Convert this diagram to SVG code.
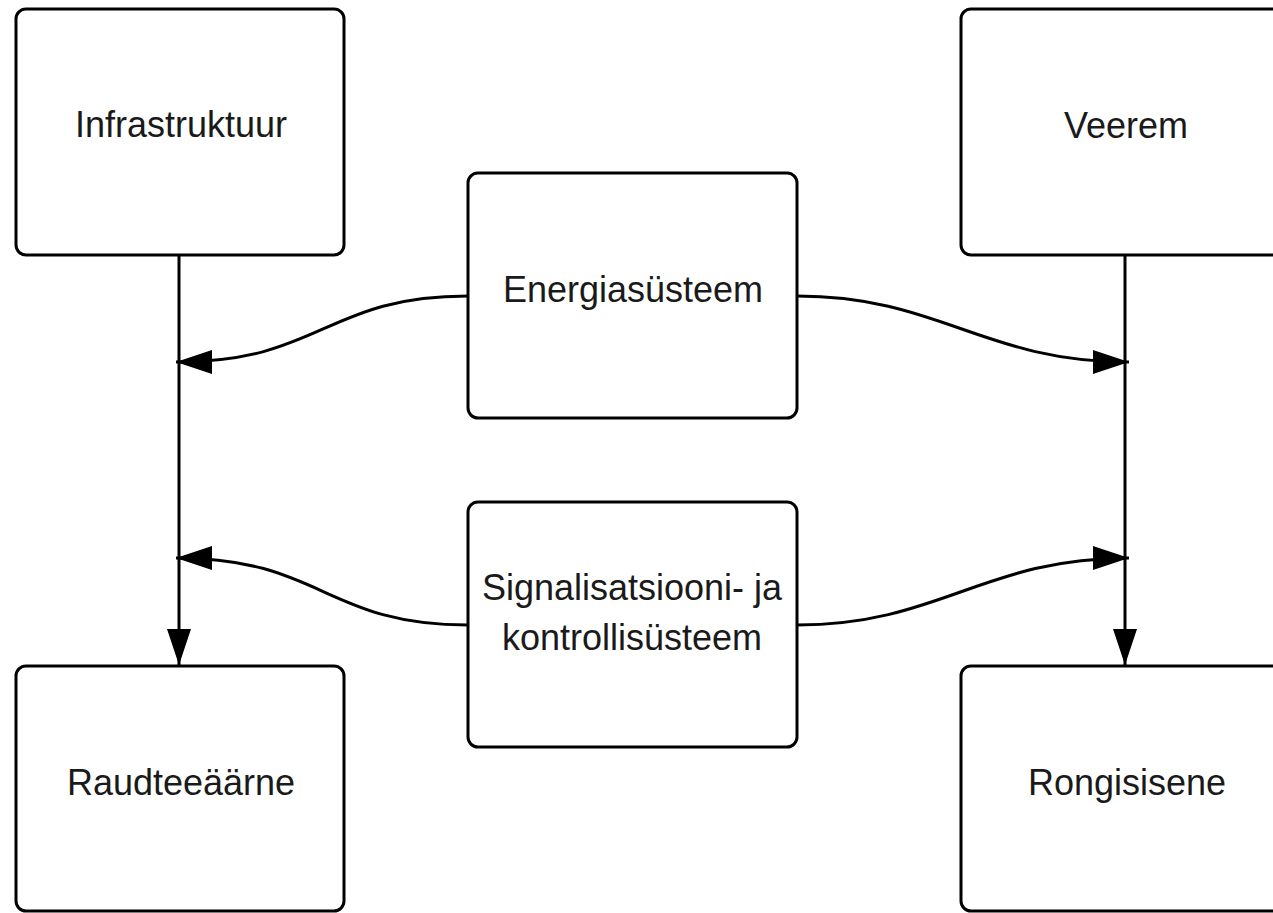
<svg xmlns="http://www.w3.org/2000/svg" width="1273" height="913" viewBox="0 0 1273 913">
  <style>
    .box { fill: #ffffff; stroke: #000000; stroke-width: 3; }
    .label { font-family: "Liberation Sans", Arial, sans-serif; font-size: 36px; fill: #1a1a1a; text-anchor: middle; }
    .edge { fill: none; stroke: #000000; stroke-width: 3; }
  </style>
  <defs>
    <marker id="arrow" markerUnits="userSpaceOnUse" markerWidth="40" markerHeight="26" refX="36" refY="12" orient="auto">
      <path d="M0,0 L36,12 L0,24 z" fill="#000000"/>
    </marker>
  </defs>

  <rect width="1273" height="913" fill="#ffffff"/>

  <g id="connectors">
    <!-- vertical flows -->
    <path class="edge" d="M179,256 L179,665" marker-end="url(#arrow)"/>
    <path class="edge" d="M1125,256 L1125,665" marker-end="url(#arrow)"/>
    <!-- energy system feeds -->
    <path class="edge" d="M468,296 C325,296 322,362 176,362" marker-end="url(#arrow)"/>
    <path class="edge" d="M797,296 C940,296 983,362 1129,362" marker-end="url(#arrow)"/>
    <!-- signalling feeds -->
    <path class="edge" d="M468,625 C325,625 322,558 176,558" marker-end="url(#arrow)"/>
    <path class="edge" d="M797,625 C940,625 983,558 1129,558" marker-end="url(#arrow)"/>
  </g>

  <g id="node-infrastruktuur">
    <rect class="box" x="16" y="9" width="328" height="246" rx="10"/>
    <text class="label" x="181" y="137">Infrastruktuur</text>
  </g>

  <g id="node-veerem">
    <rect class="box" x="961" y="9" width="330" height="246" rx="10"/>
    <text class="label" x="1126" y="138">Veerem</text>
  </g>

  <g id="node-energiasusteem">
    <rect class="box" x="468" y="173" width="329" height="245" rx="10"/>
    <text class="label" x="633" y="302">Energiasüsteem</text>
  </g>

  <g id="node-signalisatsioon">
    <rect class="box" x="468" y="502" width="329" height="245" rx="10"/>
    <text class="label" x="632" y="600">Signalisatsiooni- ja</text>
    <text class="label" x="632" y="650">kontrollisüsteem</text>
  </g>

  <g id="node-raudteeaarne">
    <rect class="box" x="16" y="666" width="328" height="245" rx="10"/>
    <text class="label" x="181" y="795">Raudteeäärne</text>
  </g>

  <g id="node-rongisisene">
    <rect class="box" x="961" y="666" width="330" height="245" rx="10"/>
    <text class="label" x="1127" y="795">Rongisisene</text>
  </g>
</svg>
